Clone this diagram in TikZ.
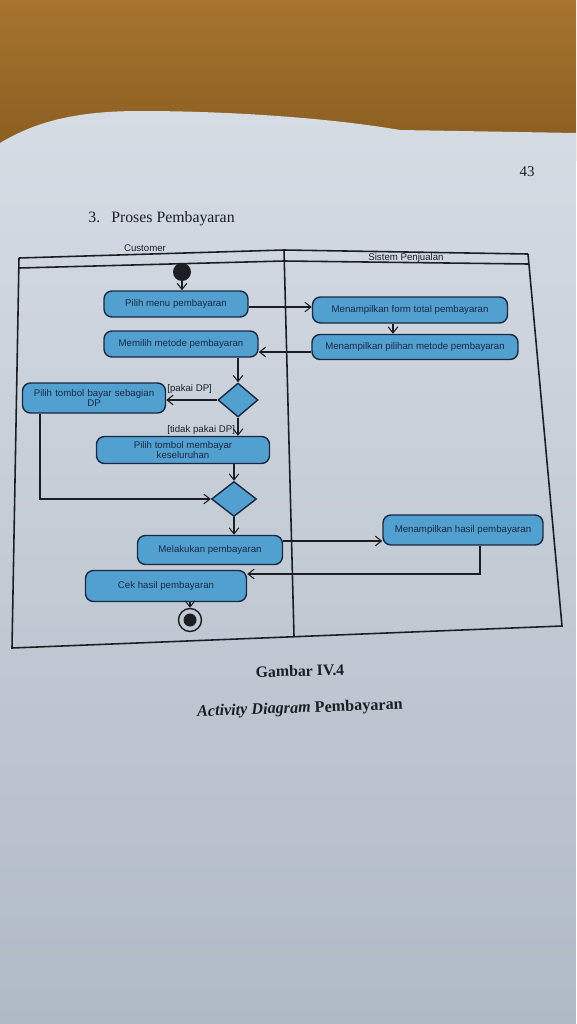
\documentclass[tikz,border=0pt]{standalone}
\usepackage{fontspec}
\setmainfont{Liberation Serif}
\setsansfont{Liberation Sans}
\usetikzlibrary{shapes.geometric,arrows.meta}
\definecolor{wood}{RGB}{136,92,32}
\definecolor{woodtop}{RGB}{166,116,46}
\definecolor{papertop}{RGB}{214,220,228}
\definecolor{paperbot}{RGB}{176,186,198}
\definecolor{actfill}{RGB}{82,160,208}
\definecolor{actline}{RGB}{26,40,66}
\definecolor{ink}{RGB}{28,30,36}

\begin{document}
\begin{tikzpicture}[x=0.02cm,y=-0.02cm,>={Straight Barb[length=3.5pt,width=5.5pt]},
  act/.style={draw=actline,line width=0.8pt,fill=actfill,rounded corners=4.5pt,
    font=\sffamily\fontsize{5.5}{6.2}\selectfont,text=actline,align=center,inner sep=1pt},
  dec/.style={diamond,draw=actline,line width=0.8pt,fill=actfill,inner sep=0pt},
  flow/.style={->,draw=ink,line width=0.6pt},
  frame/.style={draw=ink,line width=0.9pt},
  guard/.style={font=\sffamily\fontsize{5.5}{6}\selectfont,text=ink,inner sep=0pt,anchor=west},
  lane/.style={font=\sffamily\fontsize{5.5}{6}\selectfont,text=ink,inner sep=0pt},
  initnode/.style={circle,fill=ink,minimum size=0.36cm,inner sep=0pt},
  finalnode/.style={circle,draw=ink,line width=0.8pt,minimum size=0.46cm,inner sep=0pt}]
\useasboundingbox (0,0) rectangle (576,1024);
\fill[top color=woodtop,bottom color=wood] (0,0) rectangle (576,160);
\shade[top color=papertop,bottom color=paperbot] (0,143) .. controls (35,122) and (75,111) .. (140,111)
  .. controls (230,111) and (330,118) .. (400,130) -- (576,133) -- (576,1024) -- (0,1024) -- cycle;

\node[font=\fontsize{8.5}{10}\selectfont,text=ink] (pageno) at (527,172) {43};
\node[font=\fontsize{9}{11}\selectfont,text=ink,anchor=base west,inner sep=0pt] (judul) at (88,222) {3.\hspace{0.7em}Proses Pembayaran};

\draw[frame] (19,258) -- (12,648) -- (562,626) -- (528,254);
\draw[frame] (19,258) -- (284,250) -- (528,254);
\draw[frame] (19,268) -- (284,261) -- (528,264);
\draw[frame] (284,250) -- (294,636);
\node[lane] (customer) at (145,248) {Customer};
\node[lane] (sistem) at (406,258) {Sistem Penjualan};

\node[initnode] (start) at (182,272) {};
\node[act,minimum width=2.88cm,minimum height=0.52cm] (pilihmenu) at (176,304) {Pilih menu pembayaran};
\node[act,minimum width=3.08cm,minimum height=0.52cm] (memilih) at (181,344) {Memilih metode pembayaran};
\node[dec,minimum width=0.8cm,minimum height=0.68cm] (dec1) at (238,400) {};
\node[act,minimum width=2.86cm,minimum height=0.6cm,text width=2.75cm] (dp) at (94,398) {Pilih tombol bayar sebagian\\DP};
\node[act,minimum width=3.46cm,minimum height=0.54cm] (kes) at (183,450) {Pilih tombol membayar\\keseluruhan};
\node[dec,minimum width=0.9cm,minimum height=0.7cm] (dec2) at (234,499) {};
\node[act,minimum width=2.9cm,minimum height=0.58cm] (mel) at (210,550) {Melakukan pembayaran};
\node[act,minimum width=3.22cm,minimum height=0.62cm] (cek) at (166,586) {Cek hasil pembayaran};
\node[finalnode] (end) at (190,620) {};
\fill[ink] (end.center) circle (0.13cm);

\node[act,minimum width=3.9cm,minimum height=0.52cm] (formtotal) at (410,310) {Menampilkan form total pembayaran};
\node[act,minimum width=4.12cm,minimum height=0.5cm] (pilihan) at (415,347) {Menampilkan pilihan metode pembayaran};
\node[act,minimum width=3.2cm,minimum height=0.6cm] (hasil) at (463,530) {Menampilkan hasil pembayaran};

\node[guard] (gdp) at (167,389) {[pakai DP]};
\node[guard] (gtidak) at (167,430) {[tidak pakai DP]};

\draw[flow] (start) -- (start |- pilihmenu.north);
\draw[flow] (pilihmenu.east |- 0,307) -- (formtotal.west |- 0,307);
\draw[flow] (formtotal.south -| 393,0) -- (pilihan.north -| 393,0);
\draw[flow] (pilihan.west |- 0,352) -- (memilih.east |- 0,352);
\draw[flow] (memilih.south -| dec1) -- (dec1.north);
\draw[flow] (dec1.west) -- (dp.east |- dec1.west);
\draw[flow] (dec1.south) -- (dec1.south |- kes.north);
\draw[flow] (kes.south -| dec2) -- (dec2.north);
\draw[flow] (dp.south -| 40,0) |- (dec2.west);
\draw[flow] (dec2.south) -- (dec2.south |- mel.north);
\draw[flow] (mel.east |- 0,541) -- (hasil.west |- 0,541);
\draw[flow] (hasil.south -| 480,0) |- (cek.east |- 0,574);
\draw[flow] (cek.south -| end) -- (end.north);

\node[font=\bfseries\fontsize{9}{11}\selectfont,text=ink,rotate=1.5] (gambar) at (300,671) {Gambar IV.4};
\node[font=\bfseries\fontsize{9.2}{11}\selectfont,text=ink,rotate=2] (caption) at (300,709) {\textit{Activity Diagram} Pembayaran};
\end{tikzpicture}
\end{document}
